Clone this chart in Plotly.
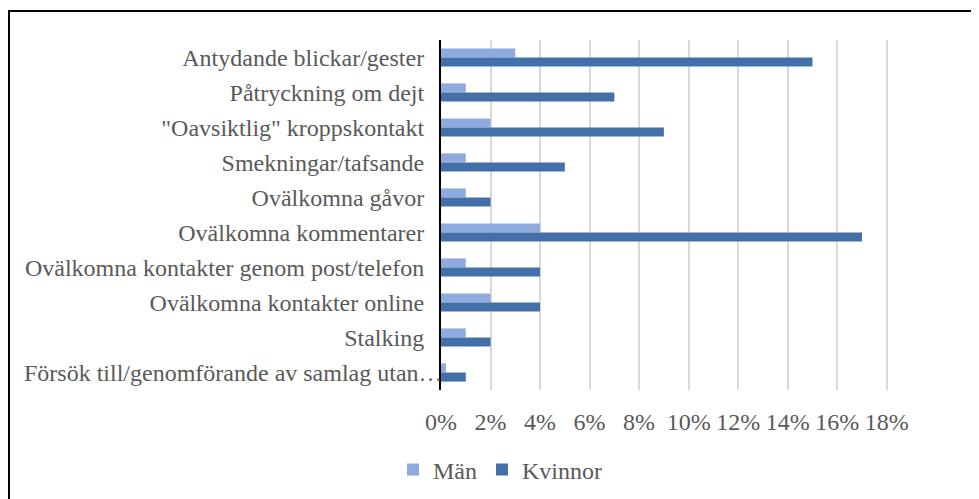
import plotly.graph_objects as go

categories = [
    "Antydande blickar/gester",
    "Påtryckning om dejt",
    "\"Oavsiktlig\" kroppskontakt",
    "Smekningar/tafsande",
    "Ovälkomna gåvor",
    "Ovälkomna kommentarer",
    "Ovälkomna kontakter genom post/telefon",
    "Ovälkomna kontakter online",
    "Stalking",
    "Försök till/genomförande av samlag utan…",
]
man_values = [3, 1, 2, 1, 1, 4, 1, 2, 1, 0.2]
kvinnor_values = [15, 7, 9, 5, 2, 17, 4, 4, 2, 1]
x_ticks = [0, 2, 4, 6, 8, 10, 12, 14, 16, 18]
x_tick_labels = [f"{v}%" for v in x_ticks]

# page has an 8px body margin, so the figure is 8px smaller than the window
W, H = 971, 491
L, R, T, B = 433, 91, 32, 109
pw, ph = W - L - R, H - T - B

font = dict(family="Liberation Serif", size=24, color="#595959")

fig = go.Figure()
fig.add_trace(go.Bar(y=categories, x=man_values, name="Män", orientation="h",
                     marker=dict(color="#8FAADC", line=dict(width=0))))
fig.add_trace(go.Bar(y=categories, x=kvinnor_values, name="Kvinnor", orientation="h",
                     marker=dict(color="#4470AA", line=dict(width=0))))

def px_to_paper_x(px):
    return (px - L) / pw

def px_to_paper_y(py):
    return (H - B - py) / ph

fig.add_shape(type="rect", xref="paper", yref="paper",
              x0=px_to_paper_x(1), x1=px_to_paper_x(1000),
              y0=px_to_paper_y(520), y1=px_to_paper_y(3),
              line=dict(color="black", width=2), fillcolor="rgba(0,0,0,0)", layer="above")

# the truncated last label overhangs the axis line in the original, so draw it as an annotation
y_tick_text = categories[:-1] + [""]
fig.add_annotation(text=categories[-1], xref="paper", yref="y", x=0, y=categories[-1],
                   xanchor="right", yanchor="middle", xshift=4, showarrow=False, font=font)

fig.update_layout(
    width=W, height=H,
    margin=dict(l=L, r=R, t=T, b=B, pad=0, autoexpand=False),
    paper_bgcolor="white", plot_bgcolor="white",
    barmode="group", bargap=0.48, bargroupgap=0,
    font=font,
    showlegend=True,
    legend=dict(orientation="h", xref="container", yref="container",
                x=385 / W, y=1 - 462 / H, xanchor="left", yanchor="middle",
                font=font, traceorder="normal", itemwidth=30),
    xaxis=dict(range=[0, 18.05], tickmode="array", tickvals=x_ticks, ticktext=x_tick_labels,
               showgrid=True, gridcolor="#D9D9D9", gridwidth=2,
               zeroline=False, showline=False, automargin=False,
               ticks="outside", ticklen=10, tickcolor="rgba(0,0,0,0)",
               tickfont=font, fixedrange=True),
    yaxis=dict(autorange="reversed", tickmode="array", tickvals=categories, ticktext=y_tick_text,
               showline=True, linecolor="black", linewidth=2,
               showgrid=False, zeroline=False, automargin=False,
               ticks="outside", ticklen=10, tickcolor="rgba(0,0,0,0)",
               tickfont=font, fixedrange=True),
)

fig.write_html("out.html")
